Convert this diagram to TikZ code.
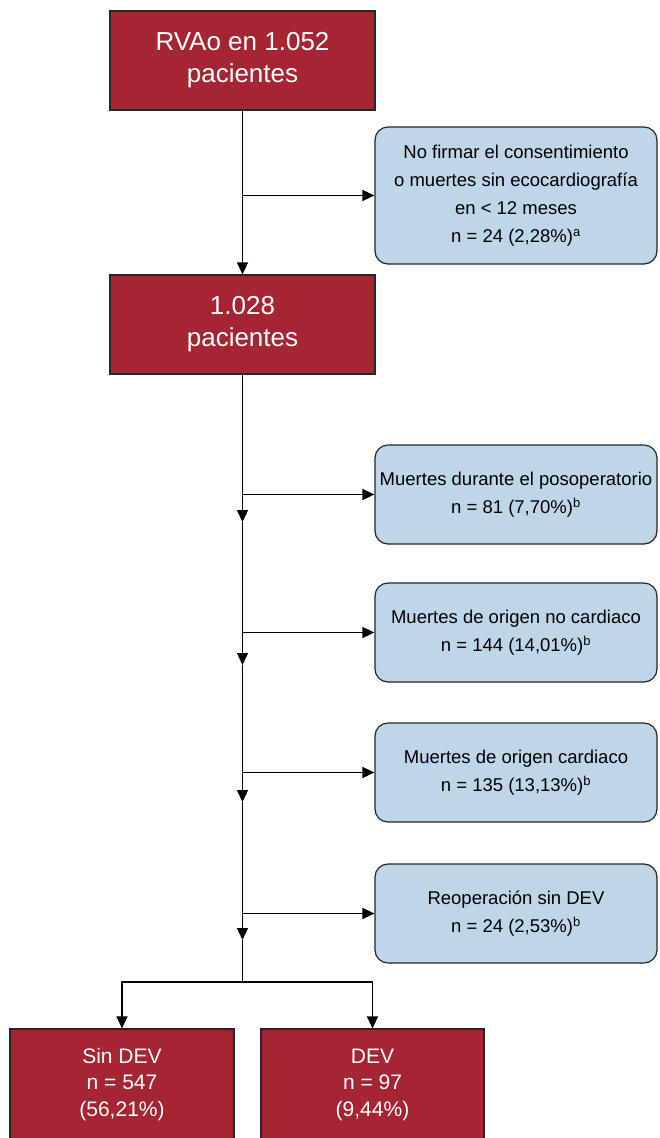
\documentclass[tikz,border=0pt]{standalone}
\usepackage{fontspec}
\setmainfont{Liberation Sans}
\usetikzlibrary{arrows.meta}

\definecolor{rojo}{HTML}{A52632}
\definecolor{azul}{HTML}{BDD6E8}

\tikzset{
  caja/.style={draw=black!85, line width=1.2pt, fill=rojo, text=white, align=center, inner sep=0pt},
  exclusion/.style={draw=black!85, line width=1.2pt, fill=azul, rounded corners=13pt, align=center,
    minimum width=282pt, minimum height=99pt, inner sep=0pt, font=\fontsize{18.5}{28}\selectfont},
  flecha/.style={line width=1.3pt, -{Triangle[length=12pt,width=11pt]}},
  linea/.style={line width=1.3pt}
}

\begin{document}
\begin{tikzpicture}[x=1pt,y=-1pt]
        \useasboundingbox (0,0) rectangle (659,1138);

        % Boxes of patients
        \node[caja, minimum width=265pt, minimum height=99pt, font=\fontsize{26}{32}\selectfont] (inicio) at (242.5,60.5) {RVAo en 1.052\\pacientes};
        \node[caja, minimum width=265pt, minimum height=99pt, font=\fontsize{26}{32}\selectfont] (cohorte) at (242.5,324.5) {1.028\\pacientes};

        % Exclusions
        \node[exclusion, minimum height=137pt] (excl0) at (516,195.5) {No firmar el consentimiento\\o muertes sin ecocardiografía\\en < 12 meses\\n = 24 (2,28\%)\textsuperscript{a}};
        \node[exclusion] (excl1) at (516,494.5) {Muertes durante el posoperatorio\\n = 81 (7,70\%)\textsuperscript{b}};
        \node[exclusion] (excl2) at (516,632.5) {Muertes de origen no cardiaco\\n = 144 (14,01\%)\textsuperscript{b}};
        \node[exclusion] (excl3) at (516,772.5) {Muertes de origen cardiaco\\n = 135 (13,13\%)\textsuperscript{b}};
        \node[exclusion] (excl4) at (516,913.5) {Reoperación sin DEV\\n = 24 (2,53\%)\textsuperscript{b}};

        % Final groups
        \node[caja, minimum width=224pt, minimum height=111pt, font=\fontsize{21}{26.5}\selectfont] (sindev) at (122,1084.5) {Sin DEV\\n = 547\\(56,21\%)};
        \node[caja, minimum width=223pt, minimum height=111pt, font=\fontsize{21}{26.5}\selectfont] (dev) at (372.5,1084.5) {DEV\\n = 97\\(9,44\%)};

        % Points on the main line
        \coordinate (m1) at (242.5,522);
        \coordinate (m2) at (242.5,665);
        \coordinate (m3) at (242.5,802);
        \coordinate (m4) at (242.5,940);
        \coordinate (split) at (242.5,982);

        % Main line
        \draw[flecha] (inicio) -- (cohorte);
        \draw[flecha] (cohorte) -- (m1);
        \draw[flecha] (m1) -- (m2);
        \draw[flecha] (m2) -- (m3);
        \draw[flecha] (m3) -- (m4);
        \draw[linea] (m4) -- (split);
        \draw[flecha] (split) -| (sindev);
        \draw[flecha] (split) -| (dev);

        % Arrows to the exclusions
        \draw[flecha] (inicio.south |- excl0.west) -- (excl0.west);
        \draw[flecha] (cohorte.south |- excl1.west) -- (excl1.west);
        \draw[flecha] (cohorte.south |- excl2.west) -- (excl2.west);
        \draw[flecha] (cohorte.south |- excl3.west) -- (excl3.west);
        \draw[flecha] (cohorte.south |- excl4.west) -- (excl4.west);
\end{tikzpicture}
\end{document}
